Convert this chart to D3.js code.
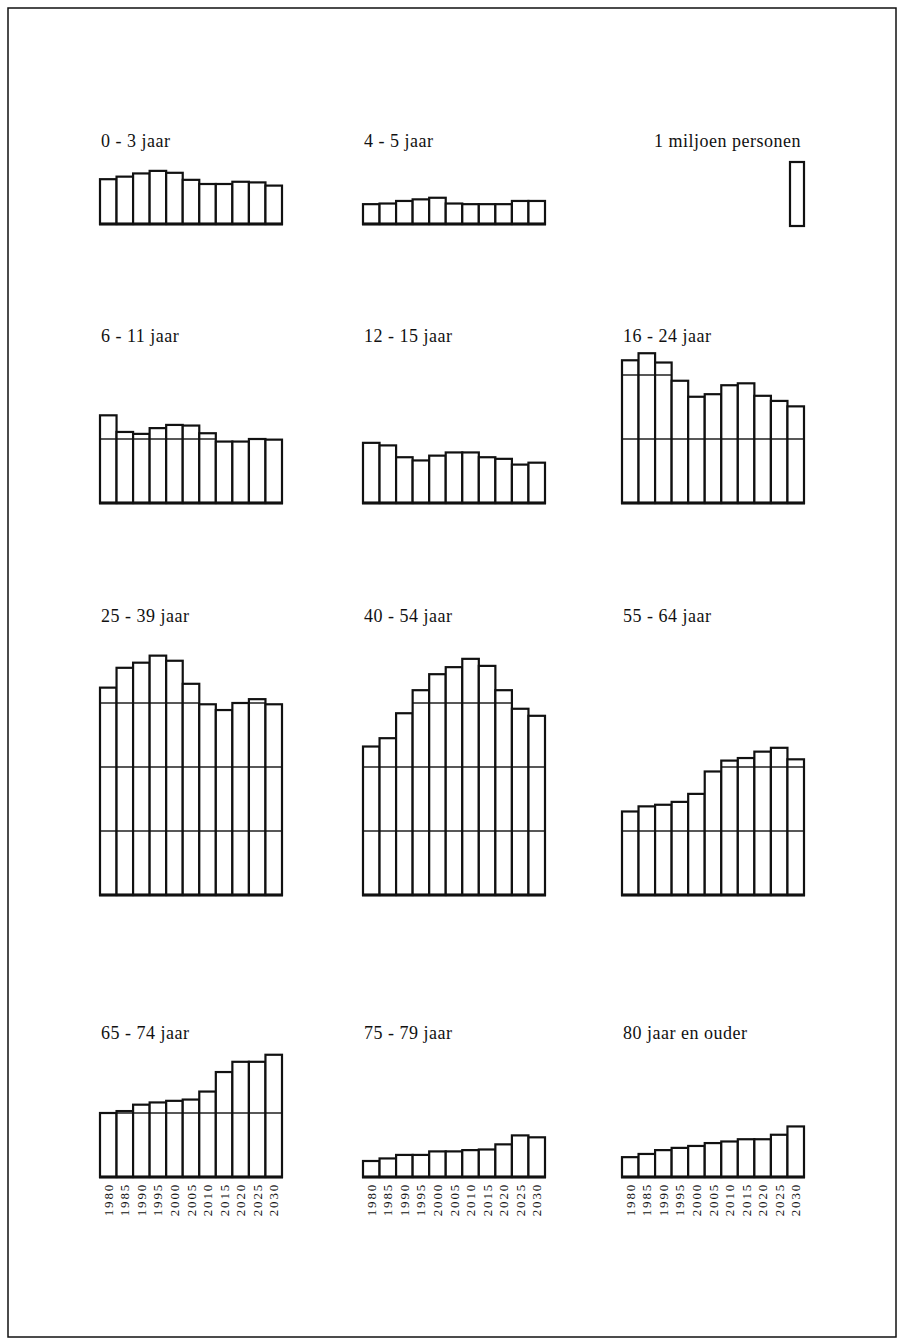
<!DOCTYPE html>
<html>
<head>
<meta charset="utf-8">
<script src="https://cdn.jsdelivr.net/npm/d3@7"></script>
<style>
  body { margin: 0; background: #fff; }
  text { font-family: "Liberation Serif", "DejaVu Serif", serif; fill: #111; }
</style>
</head>
<body>
<svg id="chart" width="905" height="1344"></svg>
<script>
// population per age group, millions
const years = [1980, 1985, 1990, 1995, 2000, 2005, 2010, 2015, 2020, 2025, 2030]
const titles = ['0 - 3 jaar', '4 - 5 jaar', '6 - 11 jaar', '12 - 15 jaar', '16 - 24 jaar',
  '25 - 39 jaar', '40 - 54 jaar', '55 - 64 jaar', '65 - 74 jaar', '75 - 79 jaar', '80 jaar en ouder']
const age0to3 = [0.70, 0.74, 0.79, 0.83, 0.80, 0.69, 0.625, 0.625, 0.66, 0.65, 0.60]
const age4to5 = [0.31, 0.32, 0.36, 0.385, 0.41, 0.32, 0.31, 0.31, 0.31, 0.36, 0.36]
const age6to11 = [1.37, 1.11, 1.08, 1.17, 1.22, 1.21, 1.09, 0.96, 0.96, 1.0, 0.99]
const age12to15 = [0.94, 0.90, 0.715, 0.665, 0.74, 0.79, 0.79, 0.715, 0.69, 0.60, 0.63]
const age16to24 = [2.23, 2.34, 2.195, 1.91, 1.66, 1.70, 1.84, 1.87, 1.675, 1.595, 1.51]
const age25to39 = [3.24, 3.55, 3.63, 3.74, 3.66, 3.30, 2.98, 2.89, 3.0, 3.06, 2.98]
const age40to54 = [2.32, 2.45, 2.84, 3.20, 3.45, 3.56, 3.69, 3.58, 3.20, 2.91, 2.80]
const age55to64 = [1.305, 1.385, 1.41, 1.455, 1.58, 1.93, 2.10, 2.14, 2.24, 2.30, 2.12]
const age65to74 = [1.0, 1.03, 1.13, 1.165, 1.19, 1.21, 1.335, 1.64, 1.80, 1.80, 1.91]
const age75to79 = [0.25, 0.29, 0.345, 0.345, 0.40, 0.40, 0.42, 0.43, 0.51, 0.65, 0.62]
const age80plus = [0.31, 0.36, 0.42, 0.455, 0.485, 0.53, 0.555, 0.59, 0.59, 0.66, 0.79]
const legendLabel = '1 miljoen personen'

const series = [age0to3, age4to5, age6to11, age12to15, age16to24, age25to39,
  age40to54, age55to64, age65to74, age75to79, age80plus]
// grid slot (col,row) of each panel; slot 2 in row 0 holds the legend
const slots = [[0, 0], [1, 0], [0, 1], [1, 1], [2, 1], [0, 2], [1, 2], [2, 2], [0, 3], [1, 3], [2, 3]]

const colLeft = [100, 363, 622]
const panelWidth = 182
const rowBase = [224, 503, 895, 1177]
const rowTitle = [147, 342, 622, 1039]

const svg = d3.select('#chart')

svg.append('rect')
  .attr('x', 8).attr('y', 8)
  .attr('width', 888).attr('height', 1329)
  .attr('fill', 'none').attr('stroke', '#111').attr('stroke-width', 1.5)

const h = d3.scaleLinear().domain([0, 1]).range([0, 64])

series.forEach((values, i) => {
  const [col, row] = slots[i]
  const left = colLeft[col]
  const base = rowBase[row]
  const x = d3.scaleBand().domain(years).range([left, left + panelWidth])
  const g = svg.append('g')

  g.append('text')
    .attr('x', left + 1)
    .attr('y', rowTitle[row])
    .attr('font-size', 18)
    .attr('letter-spacing', 0.5)
    .text(titles[i])

  const data = years.map((year, j) => ({ year, value: values[j] }))

  g.selectAll('rect.bar')
    .data(data)
    .join('rect')
    .attr('class', 'bar')
    .attr('x', (d) => x(d.year))
    .attr('y', (d) => base - h(d.value))
    .attr('width', x.bandwidth())
    .attr('height', (d) => h(d.value))
    .attr('fill', '#fff')
    .attr('stroke', '#111')
    .attr('stroke-width', 2.2)

  // million lines inside each bar
  const grid = data.flatMap((d) => d3.range(1, Math.floor(d.value) + 1)
    .filter((k) => k < d.value - 0.02)
    .map((k) => ({ year: d.year, k })))

  g.selectAll('line.grid')
    .data(grid)
    .join('line')
    .attr('class', 'grid')
    .attr('x1', (d) => x(d.year))
    .attr('x2', (d) => x(d.year) + x.bandwidth())
    .attr('y1', (d) => base - h(d.k))
    .attr('y2', (d) => base - h(d.k))
    .attr('stroke', '#111')
    .attr('stroke-width', 1.4)

  g.append('line')
    .attr('x1', left - 1).attr('x2', left + panelWidth + 1)
    .attr('y1', base).attr('y2', base)
    .attr('stroke', '#111').attr('stroke-width', 2.8)

  if (row === 3) {
    g.selectAll('text.year')
      .data(years)
      .join('text')
      .attr('class', 'year')
      .attr('transform', (d) => `translate(${x(d) + x.bandwidth() / 2},${base + 6}) rotate(-90)`)
      .attr('text-anchor', 'end')
      .attr('dy', '0.35em')
      .attr('font-size', 13)
      .attr('letter-spacing', 1.8)
      .text((d) => d)
  }
})

// legend: one million persons
const legendBase = 226
svg.append('text')
  .attr('x', 801)
  .attr('y', rowTitle[0])
  .attr('text-anchor', 'end')
  .attr('font-size', 18)
  .attr('letter-spacing', 0.5)
  .text(legendLabel)

svg.append('rect')
  .attr('x', 790)
  .attr('y', legendBase - h(1))
  .attr('width', 14)
  .attr('height', h(1))
  .attr('fill', '#fff')
  .attr('stroke', '#111')
  .attr('stroke-width', 2.2)
</script>
</body>
</html>
